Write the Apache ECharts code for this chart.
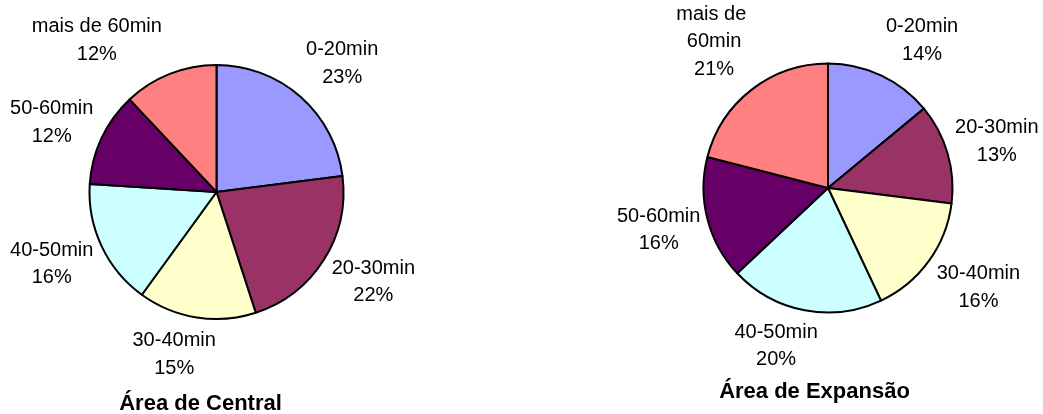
<!DOCTYPE html>
<html>
<head>
<meta charset="utf-8">
<script src="https://cdn.jsdelivr.net/npm/echarts@6/dist/echarts.min.js"></script>
<style>
html,body{margin:0;padding:0;background:#fff;}
#c{width:1043px;height:414px;}
</style>
</head>
<body>
<div id="c"></div>
<script>
const categories = ['0-20min', '20-30min', '30-40min', '40-50min', '50-60min', 'mais de 60min'];
const centralValues = [23, 22, 15, 16, 12, 12];
const expansaoValues = [14, 13, 16, 20, 16, 21];
const chartTitles = ['Área de Central', 'Área de Expansão'];
const sliceColors = ['#9999FF', '#993366', '#FFFFCC', '#CCFFFF', '#660066', '#FF8080'];

// label fine-tuning (positions only)
const centralLabelOffsets = [[6, 7.5], [4, -7], [-14, -16.5], [-1, -5], [-1, 7.5], [-53, 17]];
const expansaoLabelOffsets = [[17, 16.5], [-5, 4], [4, -7], [-18, -20], [6, -3], [-3, -3]];

const FONT = '"Liberation Sans", Arial, sans-serif';

function sliceData(values) {
  return categories.map((name, i) => ({
    name, value: values[i],
    itemStyle: { color: sliceColors[i] }
  }));
}
function labelData(values, offsets) {
  return categories.map((name, i) => ({
    name, value: values[i],
    label: { offset: offsets[i] }
  }));
}

function pieSeries(values, center, r) {
  return {
    type: 'pie', center, radius: r, startAngle: 90, clockwise: true,
    silent: true, animation: false,
    label: { show: false }, labelLine: { show: false },
    itemStyle: { borderColor: '#000', borderWidth: 2 },
    emphasis: { disabled: true },
    data: sliceData(values)
  };
}
function labelSeries(values, offsets, center, wrapWidth) {
  return {
    type: 'pie', center, radius: [170, 186], startAngle: 90, clockwise: true,
    silent: true, animation: false,
    itemStyle: { color: 'rgba(0,0,0,0)', borderWidth: 0 },
    labelLine: { show: false },
    emphasis: { disabled: true },
    label: {
      show: true, position: 'inside', color: '#000',
      fontFamily: FONT, fontSize: 20, lineHeight: 27.5,
      width: wrapWidth, overflow: 'break',
      formatter: p => p.name + '\n' + p.percent.toFixed(0) + '%'
    },
    data: labelData(values, offsets)
  };
}

const chart = echarts.init(document.getElementById('c'), null, { renderer: 'canvas' });
chart.setOption({
  backgroundColor: '#fff',
  animation: false,
  graphic: [
    { type: 'text', x: 200.5, y: 404, style: { text: chartTitles[0], align: 'center', verticalAlign: 'middle', font: 'bold 22px ' + FONT, fill: '#000' } },
    { type: 'text', x: 814.5, y: 392, style: { text: chartTitles[1], align: 'center', verticalAlign: 'middle', font: 'bold 22px ' + FONT, fill: '#000' } }
  ],
  series: [
    pieSeries(centralValues, [216.5, 192], 127),
    labelSeries(centralValues, centralLabelOffsets, [216.5, 192], 200),
    pieSeries(expansaoValues, [828, 188], 124.5),
    labelSeries(expansaoValues, expansaoLabelOffsets, [828, 188], 100)
  ]
});
</script>
</body>
</html>
